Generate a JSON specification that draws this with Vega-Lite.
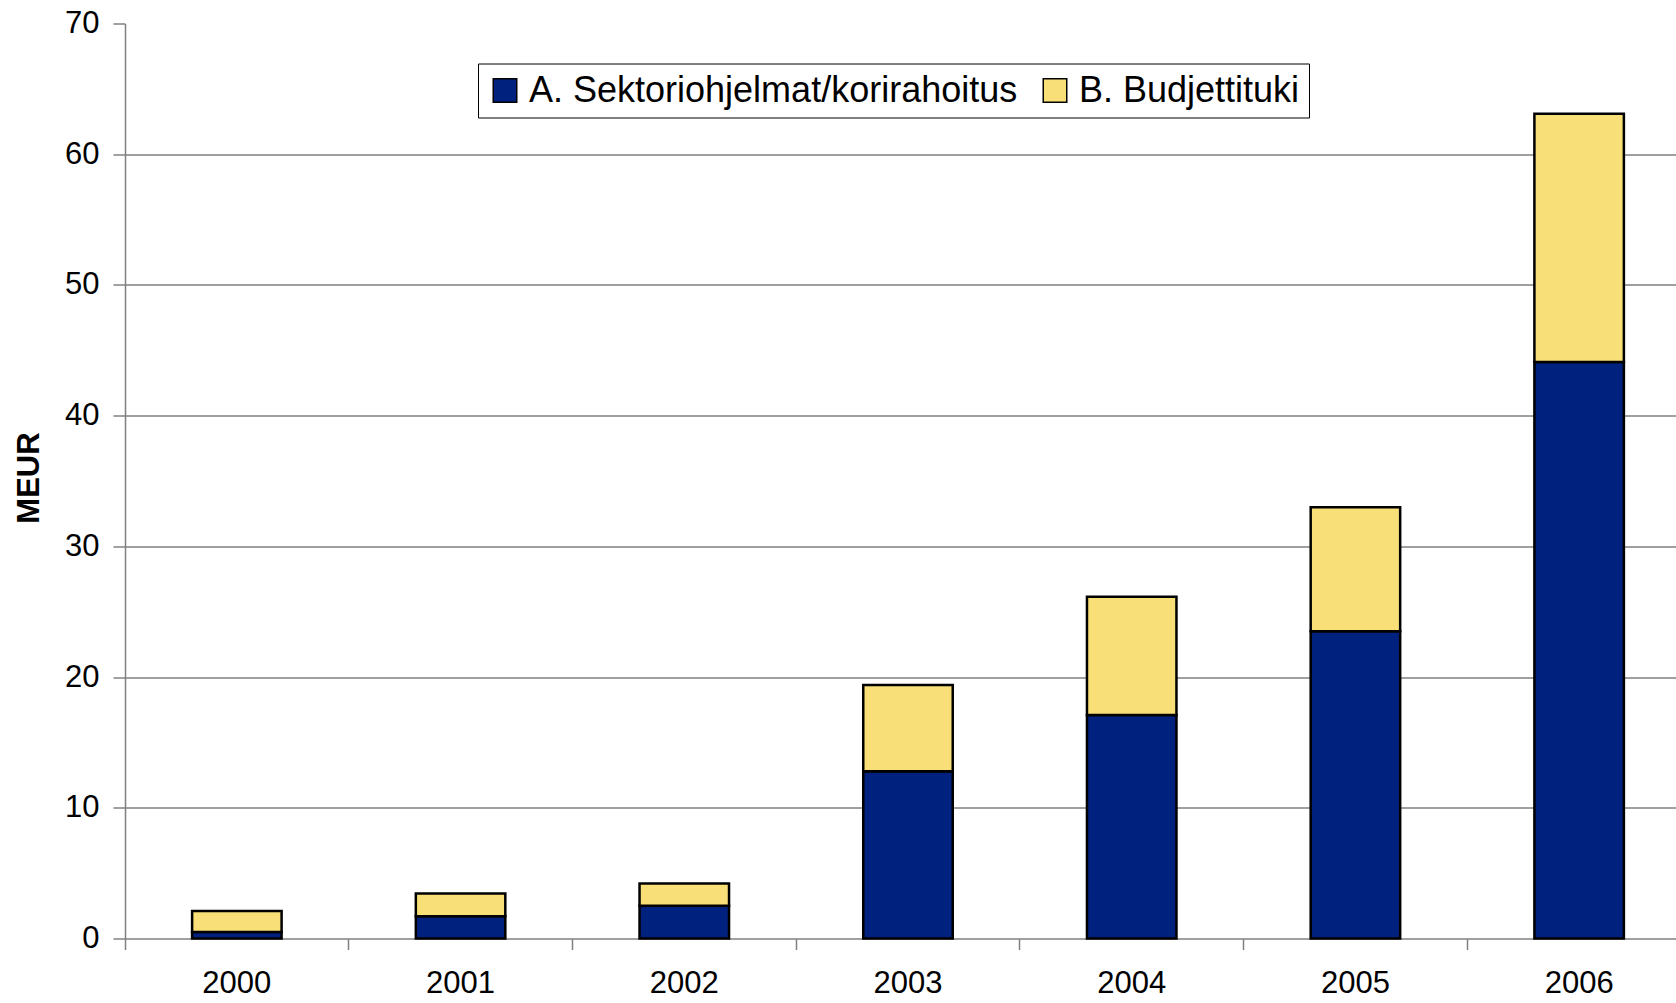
{
  "$schema": "https://vega.github.io/schema/vega-lite/v6.json",
  "width": 1551,
  "height": 915,
  "autosize": {"type": "none"},
  "padding": {"left": 125, "top": 23.5, "right": 0, "bottom": 64.5},
  "background": "white",
  "config": {
    "view": {"stroke": null},
    "font": "Liberation Sans"
  },
  "data": {
    "values": [
      {"year": "2000", "series": "A. Sektoriohjelmat/korirahoitus", "value": 0.5},
      {"year": "2000", "series": "B. Budjettituki", "value": 1.6},
      {"year": "2001", "series": "A. Sektoriohjelmat/korirahoitus", "value": 1.7},
      {"year": "2001", "series": "B. Budjettituki", "value": 1.75},
      {"year": "2002", "series": "A. Sektoriohjelmat/korirahoitus", "value": 2.5},
      {"year": "2002", "series": "B. Budjettituki", "value": 1.7},
      {"year": "2003", "series": "A. Sektoriohjelmat/korirahoitus", "value": 12.8},
      {"year": "2003", "series": "B. Budjettituki", "value": 6.6},
      {"year": "2004", "series": "A. Sektoriohjelmat/korirahoitus", "value": 17.1},
      {"year": "2004", "series": "B. Budjettituki", "value": 9.05},
      {"year": "2005", "series": "A. Sektoriohjelmat/korirahoitus", "value": 23.5},
      {"year": "2005", "series": "B. Budjettituki", "value": 9.5},
      {"year": "2006", "series": "A. Sektoriohjelmat/korirahoitus", "value": 44.1},
      {"year": "2006", "series": "B. Budjettituki", "value": 19.0}
    ]
  },
  "mark": {"type": "bar", "width": {"band": 0.4}, "stroke": "black", "strokeWidth": 2.5, "opacity": 1},
  "encoding": {
    "x": {
      "field": "year",
      "type": "nominal",
      "scale": {"range": [0, 1566], "paddingInner": 0, "paddingOuter": 0},
      "axis": {
        "title": null,
        "labelAngle": 0,
        "bandPosition": 0,
        "labelFontSize": 31,
        "labelColor": "black",
        "labelPadding": 19,
        "tickSize": 11,
        "tickColor": "#808080",
        "tickWidth": 1.5,
        "domainColor": "#808080",
        "domainWidth": 1.5,
        "grid": false
      }
    },
    "y": {
      "field": "value",
      "type": "quantitative",
      "stack": "zero",
      "scale": {"domain": [0, 70], "nice": false},
      "axis": {
        "title": "MEUR",
        "titleFontSize": 31,
        "titleFontWeight": "bold",
        "titleColor": "black",
        "titleX": -96,
        "titleY": 454,
        "titleAngle": -90,
        "titleBaseline": "middle",
        "titleAlign": "center",
        "values": [0, 10, 20, 30, 40, 50, 60, 70],
        "labelFontSize": 31,
        "labelColor": "black",
        "labelPadding": 14,
        "tickSize": 12,
        "tickColor": "#808080",
        "tickWidth": 1.5,
        "domainColor": "#808080",
        "domainWidth": 1.5,
        "grid": true,
        "gridColor": "#404040",
        "gridWidth": 1,
        "gridOpacity": {"condition": {"test": "datum.value === 70 || datum.value === 0", "value": 0}, "value": 1}
      }
    },
    "color": {
      "field": "series",
      "type": "nominal",
      "scale": {
        "domain": ["A. Sektoriohjelmat/korirahoitus", "B. Budjettituki"],
        "range": ["#00227E", "#F9DF78"]
      },
      "legend": {
        "title": null,
        "orient": "none",
        "legendX": 353,
        "legendY": 40,
        "direction": "horizontal",
        "labelFontSize": 36,
        "labelLimit": 1000,
        "labelColor": "black",
        "labelOffset": 6,
        "columnPadding": 19,
        "symbolType": "square",
        "symbolSize": 552,
        "symbolStrokeColor": "black",
        "symbolStrokeWidth": 1.5,
        "symbolOpacity": 1,
        "strokeColor": "black",
        "fillColor": "white",
        "padding": 9
      }
    },
    "order": {"field": "series", "sort": "ascending"}
  }
}
